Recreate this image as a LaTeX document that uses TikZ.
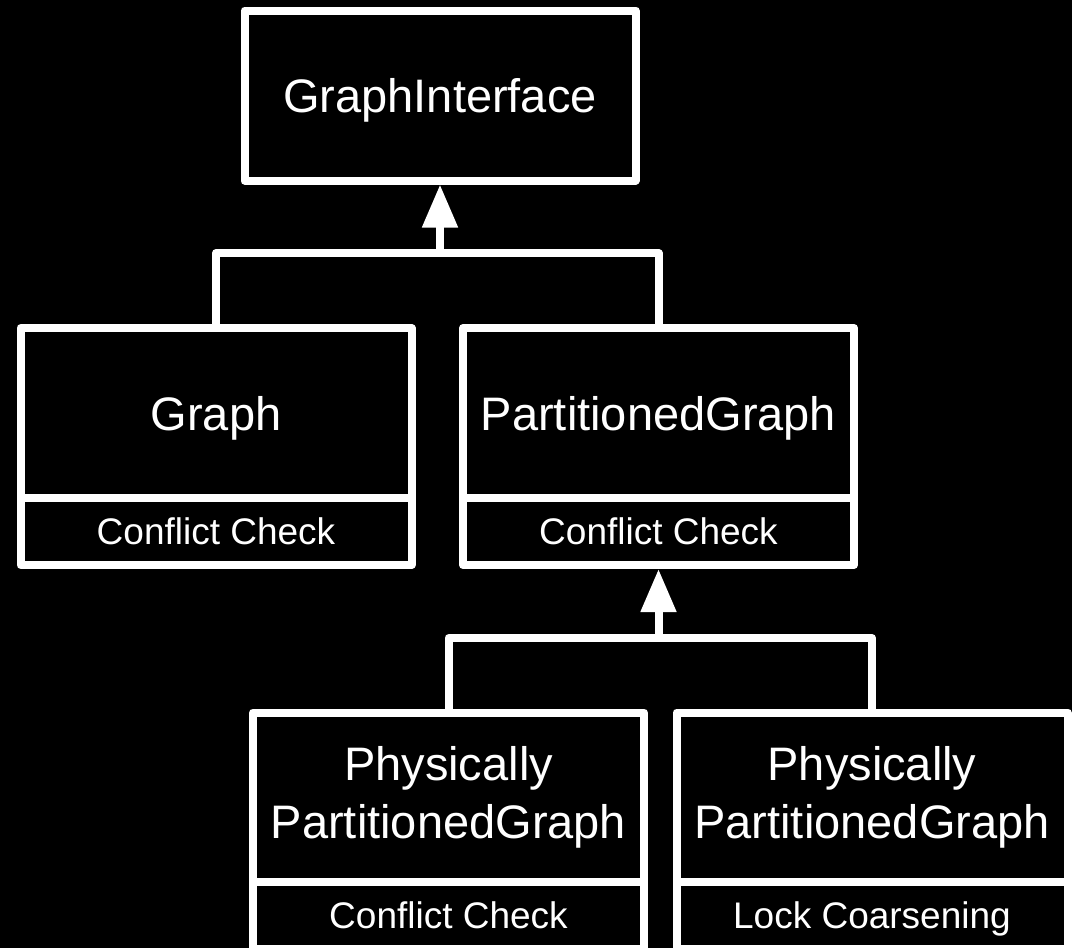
\documentclass[tikz,border=0pt]{standalone}
\usepackage{fontspec}
\setmainfont{Liberation Sans}
\usetikzlibrary{arrows.meta}
\begin{document}
\begin{tikzpicture}[x=1pt,y=-1pt,
  every node/.style={draw=white, line width=8pt, line join=round, fill=black, text=white, inner sep=0pt},
  namebox/.style={minimum width=391pt, minimum height=170pt, font=\fontsize{47}{58}\selectfont, align=center},
  onebox/.style={namebox, text height=34pt, text depth=0pt},
  opbox/.style={minimum width=391pt, minimum height=67pt, font=\fontsize{37}{44}\selectfont, text height=26pt, text depth=0pt},
  conn/.style={draw=white, line width=8pt, line join=round},
  inherit/.style={conn, -{Triangle[width=34pt,length=43pt]}}]
\fill[black] (0,0) rectangle (1072,948);
\useasboundingbox (0,0) rectangle (1072,948);
% classes
\node[onebox] (gi) at (440,95.5) {GraphInterface};
\node[onebox] (g) at (216,413) {Graph};
\node[opbox] (gcc) at (216,531.5) {Conflict Check};
\node[onebox] (pg) at (658.5,413) {PartitionedGraph};
\node[opbox] (pgcc) at (658.5,531.5) {Conflict Check};
\node[namebox] (ppga) at (448.5,797.5) {Physically\\PartitionedGraph};
\node[opbox] (ppgacc) at (448.5,915.5) {Conflict Check};
\node[namebox] (ppgb) at (872,797.5) {Physically\\PartitionedGraph};
\node[opbox] (ppgblc) at (872,915.5) {Lock Coarsening};
% junctions
\coordinate (j1) at (440,253);
\coordinate (j2) at (658.5,638);
% connectors
\draw[conn] (g.north) |- (j1);
\draw[conn] (pg.north) |- (j1);
\draw[inherit] (j1) -- (gi.south);
\draw[conn] (ppga.north) |- (j2);
\draw[conn] (ppgb.north) |- (j2);
\draw[inherit] (j2) -- (pgcc.south);
\end{tikzpicture}
\end{document}
